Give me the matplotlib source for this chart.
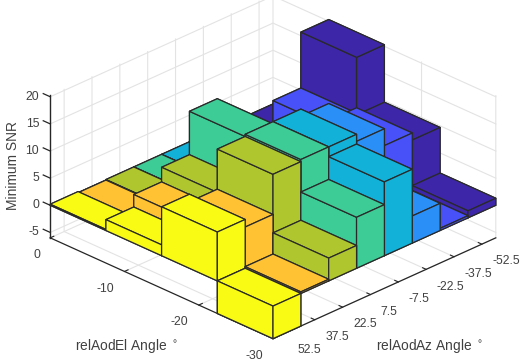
import matplotlib
matplotlib.use('Agg')
import matplotlib.pyplot as plt
from mpl_toolkits.mplot3d import proj3d

plt.rcParams['font.family'] = ['Liberation Sans', 'DejaVu Sans']

# values, one list per relAodAz row
az_centers = [-52.5, -37.5, -22.5, -7.5, 7.5, 22.5, 37.5, 52.5]
el_centers = [-3.75, -11.25, -18.75, -26.25]
snr_m52 = [0.1, 20.3, 9.7, 1.3]
snr_m37 = [0.1, 10.0, 11.0, 0.4]
snr_m22 = [0.1, 5.0, 14.1, 5.0]
snr_m7 = [0.1, 10.0, 15.4, 13.6]
snr_p7 = [0.1, 15.0, 15.4, 9.4]
snr_p22 = [0.1, 7.0, 15.0, 4.2]
snr_p37 = [0.0, 4.3, 7.6, 0.3]
snr_p52 = [0.2, 2.0, 9.0, -6.0]
rows = [snr_m52, snr_m37, snr_m22, snr_m7, snr_p7, snr_p22, snr_p37, snr_p52]
row_colors = ['#3e26a8', '#4751f7', '#2a90f8', '#12b2d8', '#3ecc96', '#afc62e', '#ffc233', '#f9fb15']

el_ticks = [0, -10, -20, -30]
az_ticks = az_centers
z_ticks = [-5, 0, 5, 10, 15, 20]
TEXT = '#404040'
AXLINE = '#262626'
GRID = '#e3e3e3'

W, H = 520, 362
fig = plt.figure(figsize=(W / 100, H / 100), dpi=100)
S = 459.6
cx, cy = 273, 166.5
left = (cx - 0.5135 * S) / W
bottom = (H - cy - 0.5135 * S) / H
ax = fig.add_axes([left, bottom, S / W, S / H], projection='3d', computed_zorder=False)
ax.set_proj_type('ortho')
ax.view_init(elev=26.9, azim=135)
ax.set_box_aspect((315, 315, 160))
ax.set_xlim(-30, 0, view_margin=0)
ax.set_ylim(-60, 60, view_margin=0)
ax.set_zlim(-6, 20.3, view_margin=0)

order = 0
for j, el in enumerate(el_centers):
    for i, az in enumerate(az_centers):
        val = rows[i][j]
        z0 = min(val, 0)
        bars = ax.bar3d(el - 3.75, az - 7.5, z0, 7.5, 15, abs(val), color=row_colors[i],
                        edgecolor='#2a2a2a', linewidth=0.9, shade=False)
        bars.set_zorder(10 + order)
        order += 1

ax.xaxis.set_pane_color((1, 1, 1, 0))
ax.yaxis.set_pane_color((1, 1, 1, 0))
ax.zaxis.set_pane_color((1, 1, 1, 0))
ax.xaxis.pane.set_edgecolor((1, 1, 1, 0))
ax.yaxis.pane.set_edgecolor((1, 1, 1, 0))
ax.zaxis.pane.set_edgecolor((1, 1, 1, 0))

ax.set_xticks(el_ticks)
ax.set_yticks(az_ticks)
ax.set_zticks([])
ax.set_xticklabels(['0', '-10', '-20', '-30'])
ax.set_yticklabels(['-52.5', '-37.5', '-22.5', '-7.5', '7.5', '22.5', '37.5', '52.5'])
ax.tick_params(labelsize=8.8, labelcolor=TEXT, color=AXLINE, pad=0)
for axis in (ax.xaxis, ax.yaxis, ax.zaxis):
    axis.line.set_color(AXLINE)
    axis.line.set_linewidth(0.9)
    axis._axinfo['grid'].update(color=GRID, linewidth=0.8)
    axis._axinfo['tick'].update(inward_factor=0.0, outward_factor=0.2)
ax.zaxis.line.set_color((0, 0, 0, 0))

for lab in ax.get_xticklabels():
    lab.set_ha('right')
    lab.set_va('top')
for lab in ax.get_yticklabels():
    lab.set_ha('left')
    lab.set_va('top')

# z axis belongs on the left corner, mplot3d wants it on the right, so draw it by hand
ax.plot([0, 0], [60, 60], [-6, 20.3], color=AXLINE, lw=1.0, zorder=5)
proj = ax.get_proj()
for z in z_ticks:
    ax.plot([0, 0, -30], [60, -60, -60], [z, z, z], color=GRID, lw=0.8, zorder=1)
    ax.plot([0, 0.94], [60, 60], [z, z], color=AXLINE, lw=0.9, zorder=5)
    px, py, _ = proj3d.proj_transform(0, 60, z, proj)
    dx, dy = ax.transData.transform((px, py))
    fig.text((dx - 11) / W, dy / H, str(z), ha='right', va='center', fontsize=8.8, color=TEXT)

fig.text(13 / W, 1 - 166 / H, 'Minimum SNR', rotation=90, ha='center', va='center', fontsize=9.9, color=TEXT)
fig.text(127 / W, 1 - 346 / H, 'relAodEl Angle $^\\circ$', ha='center', va='center', fontsize=9.9, color=TEXT)
fig.text(430 / W, 1 - 346 / H, 'relAodAz Angle $^\\circ$', ha='center', va='center', fontsize=9.9, color=TEXT)

fig.savefig('out.png', dpi=100)
